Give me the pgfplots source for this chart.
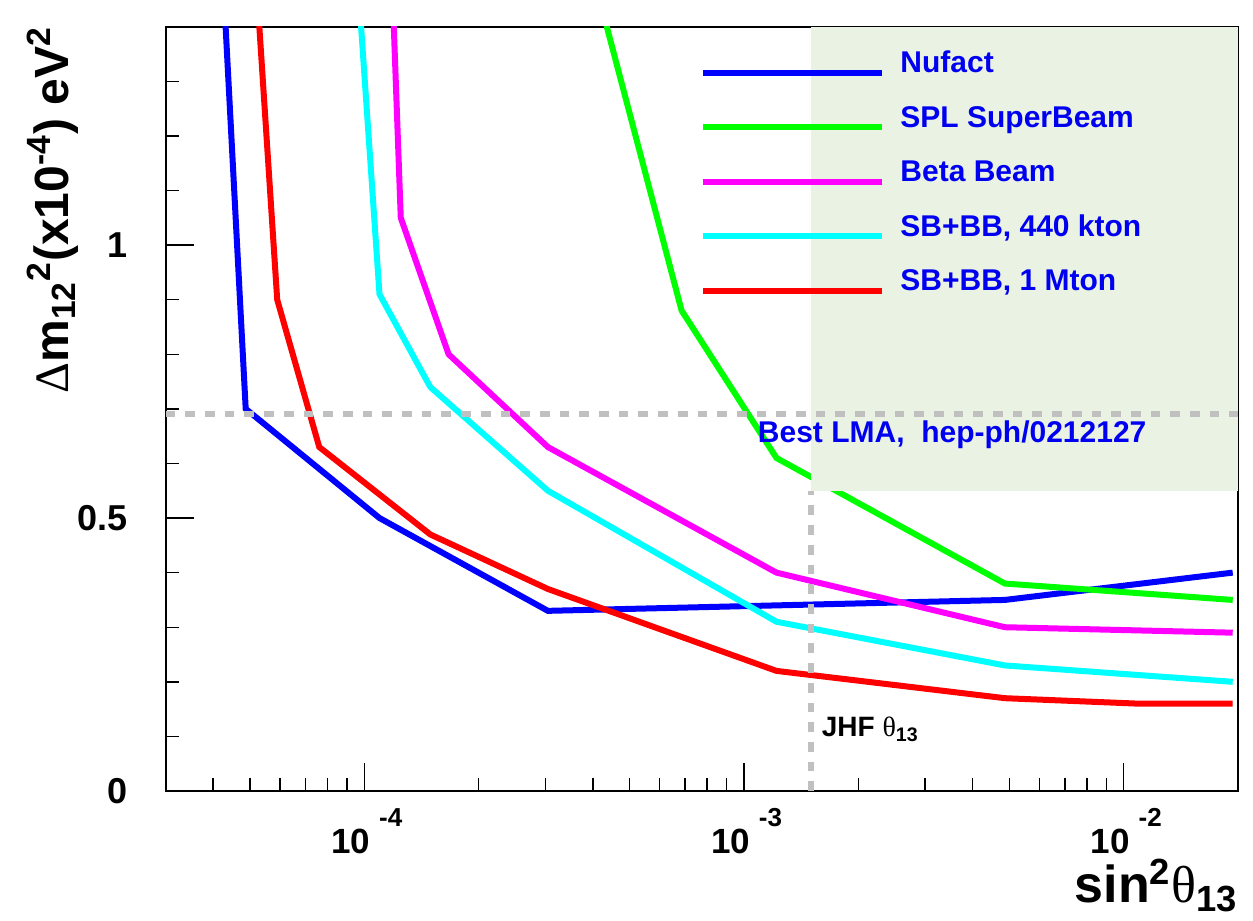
\documentclass[border=0pt]{standalone}
\usepackage{fontspec}
\setmainfont{Liberation Sans}
\newfontfamily\greekfont{Liberation Serif}
\usepackage{pgfplots}
\pgfplotsset{compat=1.18}

\definecolor{cNufact}{RGB}{0,0,255}
\definecolor{cSPL}{RGB}{0,255,0}
\definecolor{cBeta}{RGB}{255,0,255}
\definecolor{cSBsmall}{RGB}{0,255,255}
\definecolor{cSBlarge}{RGB}{255,0,0}
\definecolor{lmashade}{RGB}{234,242,228}
\definecolor{refgray}{RGB}{192,192,192}
\definecolor{labelblue}{RGB}{0,0,240}

% decade tick label: "10" with a raised exponent
\newcommand\tenexp[1]{10\hspace{4.5pt}\raisebox{13.65pt}{\fontsize{13}{13}\selectfont\bfseries#1}}

\begin{document}
\begin{tikzpicture}
\path[use as bounding box] (-82.85pt,-65pt) rectangle (543.65pt,395.5pt);
\begin{axis}[
  scale only axis, width=536.15pt, height=382.15pt,
  xmode=log, xmin=3e-5, xmax=2e-2, ymin=0, ymax=1.4,
  axis line style={line width=1pt},
  tick pos=left, tick align=inside,
  major tick length=14pt, minor tick length=6.7pt,
  every tick/.style={black, line width=0.7pt},
  xtick={1e-4,1e-3,1e-2},
  minor xtick={3e-5,4e-5,5e-5,6e-5,7e-5,8e-5,9e-5,
               2e-4,3e-4,4e-4,5e-4,6e-4,7e-4,8e-4,9e-4,
               2e-3,3e-3,4e-3,5e-3,6e-3,7e-3,8e-3,9e-3,2e-2},
  xticklabels={\tenexp{-4},\tenexp{-3},\tenexp{-2}},
  xticklabel style={font=\bfseries\fontsize{17.5}{17.5}\selectfont, anchor=base,
                    inner sep=0pt, yshift=-31.15pt, xshift=1.3pt},
  ytick={0,0.5,1}, yticklabels={0,0.5,1},
  minor ytick={0.1,0.2,0.3,0.4,0.6,0.7,0.8,0.9,1.1,1.2,1.3},
  yticklabel style={font=\bfseries\fontsize{18}{18}\selectfont, anchor=east,
                    inner sep=0pt, xshift=-19pt},
  xlabel={sin\textsuperscript{2}{\greekfont\mdseries θ}\textsubscript{13}},
  xlabel style={font=\bfseries\fontsize{26}{26}\selectfont,
                at={(axis description cs:1,-0.1465)}, anchor=base east, inner sep=0pt},
  ylabel={{\greekfont\mdseries Δ}m\textsubscript{12}\textsuperscript{2}(x10\textsuperscript{-4}) eV\textsuperscript{2}},
  ylabel style={font=\bfseries\fontsize{24}{24}\selectfont,
                at={(axis description cs:-0.0908,1)}, anchor=base east, inner sep=0pt},
  every axis plot/.append style={line width=3pt},
  legend style={at={(axis description cs:0.4987,0.9438)}, anchor=north west,
                draw=none, fill=none, inner sep=0pt, outer sep=0pt, row sep=24.25pt,
                font=\bfseries\fontsize{15}{15}\selectfont, text=labelblue,
                nodes={inner sep=0pt, outer sep=0pt, text height=0pt, text depth=0pt},
                /tikz/every odd column/.append style={column sep=7.85pt}},
  legend cell align=left,
  legend image code/.code={\path (0pt,0pt) -- (89.15pt,0pt);
                           \draw[#1, overlay] (0pt,0pt) -- (89.15pt,0pt);},
]

% Nufact
\addplot[cNufact] coordinates {
  (4.24e-5,1.5) (4.874e-5,0.70) (1.097e-4,0.50) (3.046e-4,0.33)
  (1.218e-3,0.34) (4.866e-3,0.35) (1.937e-2,0.40)};
\addlegendentry{Nufact}

% SPL SuperBeam
\addplot[cSPL] coordinates {
  (3.99e-4,1.5) (6.852e-4,0.88) (1.218e-3,0.61) (4.866e-3,0.38) (1.937e-2,0.35)};
\addlegendentry{SPL SuperBeam}

% Beta Beam
\addplot[cBeta] coordinates {
  (1.182e-4,1.5) (1.248e-4,1.05) (1.668e-4,0.80) (3.046e-4,0.63)
  (1.218e-3,0.40) (4.866e-3,0.30) (1.937e-2,0.29)};
\addlegendentry{Beta Beam}

% SB+BB, 440 kton
\addplot[cSBsmall] coordinates {
  (9.59e-5,1.5) (1.097e-4,0.91) (1.4925e-4,0.74) (3.046e-4,0.55)
  (1.218e-3,0.31) (4.866e-3,0.23) (1.937e-2,0.20)};
\addlegendentry{SB+BB, 440 kton}

% SB+BB, 1 Mton
\addplot[cSBlarge] coordinates {
  (5.18e-5,1.5) (5.9e-5,0.90) (7.615e-5,0.63) (1.4925e-4,0.47) (3.046e-4,0.37)
  (1.218e-3,0.22) (4.866e-3,0.17) (1.0926e-2,0.16) (1.937e-2,0.16)};
\addlegendentry{SB+BB, 1 Mton}

% region favoured by the best LMA fit
\addplot[draw=none, fill=lmashade, forget plot] coordinates {
  (1.5e-3,0.55) (2e-2,0.55) (2e-2,1.4) (1.5e-3,1.4)} -- cycle;

% reference lines: best LMA and JHF reach
\addplot[refgray, line width=2.85pt, dash pattern=on 4.85pt off 5pt, forget plot]
  coordinates {(3e-5,0.69) (2e-2,0.69)};
\addplot[refgray, line width=2.85pt, dash pattern=on 4.85pt off 5pt, forget plot]
  coordinates {(1.5e-3,0) (1.5e-3,0.55)};

\node[anchor=base west, inner sep=0pt, text=labelblue,
      font=\bfseries\fontsize{15}{15}\selectfont]
  at (axis cs:1.086e-3,0.639) {Best LMA,\ \ hep-ph/0212127};
\node[anchor=base west, inner sep=0pt,
      font=\bfseries\fontsize{14}{14}\selectfont]
  at (axis cs:1.60e-3,0.0993) {JHF {\greekfont\mdseries θ}\textsubscript{13}};

\end{axis}
\end{tikzpicture}
\end{document}
